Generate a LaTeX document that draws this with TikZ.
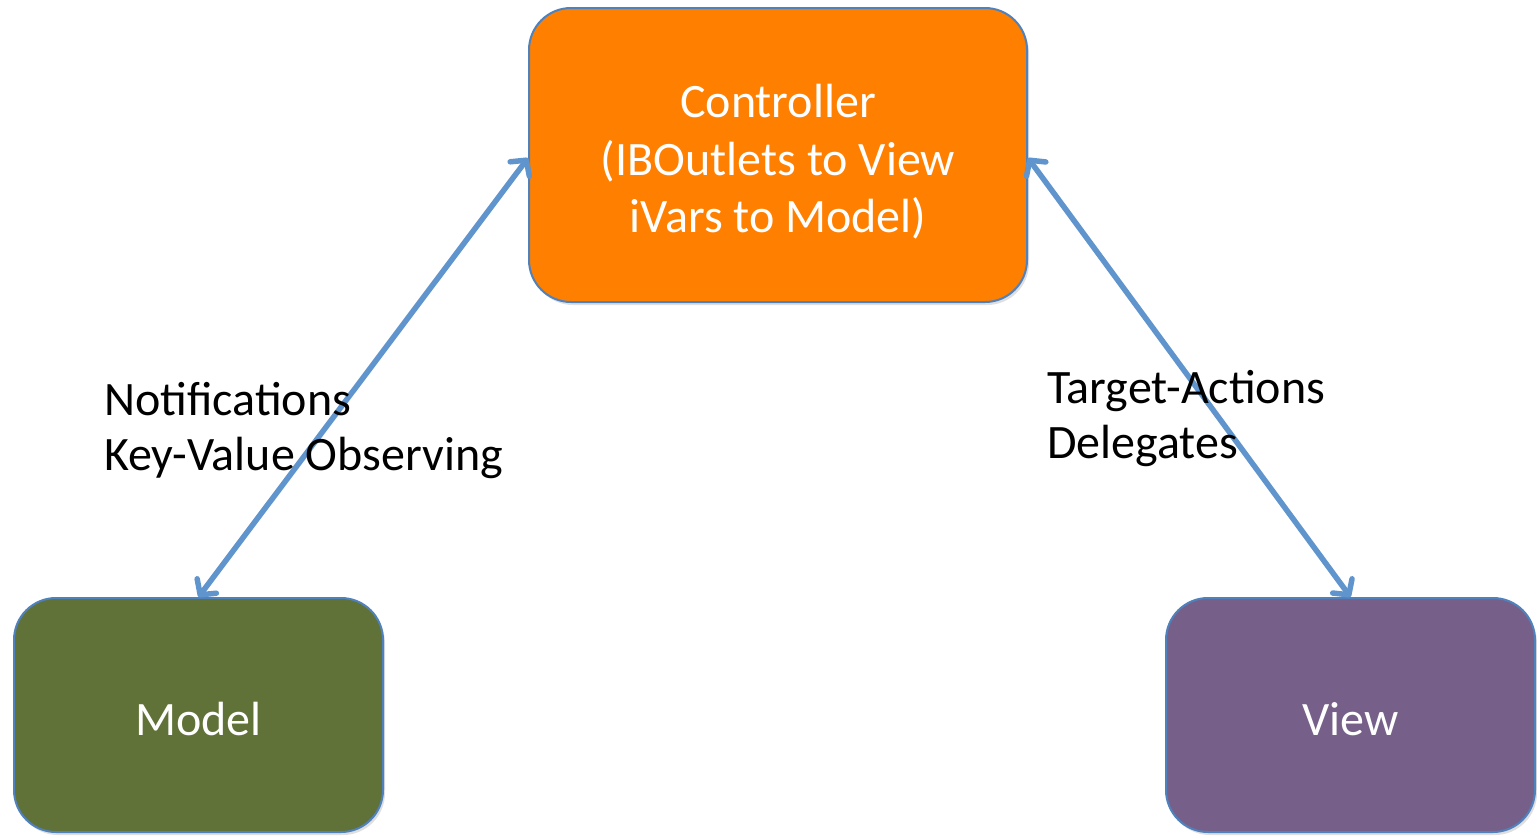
\documentclass[tikz,border=0pt]{standalone}
\usepackage{fontspec}
\setmainfont{Carlito}
\usetikzlibrary{arrows.meta,shadows}
\definecolor{ctrlorange}{RGB}{255,127,0}
\definecolor{modelgreen}{RGB}{96,114,55}
\definecolor{viewpurple}{RGB}{118,96,138}
\definecolor{boxborder}{RGB}{79,129,189}
\definecolor{arrowblue}{RGB}{95,148,205}
\tikzset{
  mvcbox/.style={draw=boxborder, line width=2pt, rounded corners=42pt,
    inner sep=0pt,
    drop shadow={opacity=0.25, shadow xshift=2pt, shadow yshift=-3pt}},
  boxtext/.style={text=white, align=center, inner sep=0pt,
    font=\fontsize{48}{57.5}\selectfont},
  link/.style={draw=arrowblue, line width=5.5pt, line cap=round,
    {Straight Barb[length=11pt,width=24pt,round]}-{Straight Barb[length=11pt,width=24pt,round]}},
  lbl/.style={anchor=base west, inner sep=0pt, font=\fontsize{48}{55}\selectfont, text=black}
}
\begin{document}
\begin{tikzpicture}[x=1pt,y=-1pt]
\useasboundingbox (0,0) rectangle (1537,838);
\node[mvcbox, fill=ctrlorange, minimum width=498pt, minimum height=294pt] (ctrl) at (778,155) {};
\node[mvcbox, fill=modelgreen, minimum width=369pt, minimum height=234pt] (model) at (198.5,715) {};
\node[mvcbox, fill=viewpurple, minimum width=369pt, minimum height=234pt] (view) at (1350.5,715) {};
\node[boxtext, anchor=base] (ctrl1) at (778,117) {Controller};
\node[boxtext, anchor=base] (ctrl2) at (778,175) {(IBOutlets to View};
\node[boxtext, anchor=base] (ctrl3) at (778,232) {iVars to Model)};
\node[boxtext, anchor=base] (modeltxt) at (198.5,735) {Model};
\node[boxtext, anchor=base] (viewtxt) at (1350.5,735) {View};
\coordinate (cw) at ([yshift=-3pt]ctrl.west);
\coordinate (ce) at ([yshift=-3pt]ctrl.east);
\draw[link] (model.north) -- (cw);
\draw[link] (ce) -- (view.north);
\node[lbl] (n1) at (104,415) {Notifications};
\node[lbl] (n2) at (104,470) {Key-Value Observing};
\node[lbl] (t1) at (1047,403) {Target-Actions};
\node[lbl] (t2) at (1047,458) {Delegates};
\end{tikzpicture}
\end{document}
